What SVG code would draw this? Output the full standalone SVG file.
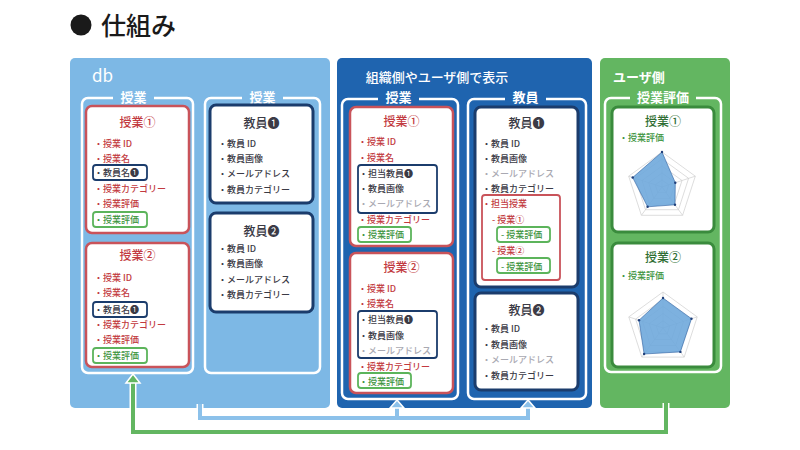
<svg xmlns="http://www.w3.org/2000/svg" width="800" height="450" viewBox="0 0 800 450">
<style>
text{font-family:"Noto Sans CJK JP","Noto Sans",sans-serif}
.ttl{font-size:25px;font-weight:500;fill:#1a1a1a}
.ph{font-size:13px;font-weight:500;fill:#fff}
.gb{fill:none;stroke:#fff;stroke-width:2.5}
.gl{font-size:13px;font-weight:bold;fill:#fff;text-anchor:middle}
.cr{fill:#fff;stroke:#c9535a;stroke-width:2.5}
.cn{fill:#fff;stroke:#1b3c6c;stroke-width:3}
.cg{fill:#fff;stroke:#3a8b3d;stroke-width:3}
.ct{font-size:12px;font-weight:500;text-anchor:middle}
.it{font-size:9px;font-weight:500;fill:#3b3b46}
.r{fill:#c23a40}
.g{fill:#3d9440}
.lg{fill:#a9a9b2}
.bn{fill:none;stroke:#1b3c6c;stroke-width:1.8}
.bg{fill:none;stroke:#5cb45b;stroke-width:1.8}
.br{fill:none;stroke:#c9535a;stroke-width:1.8}
.grid{fill:none;stroke:#cfcfcf;stroke-width:0.7}
.data{fill:#6fa8dc;fill-opacity:0.9;stroke:#2f5f9f;stroke-width:0.6}
.pt{fill:#1f3f7a}
.wo{fill:none;stroke:#fff;stroke-width:7}
.lb{fill:none;stroke:#8cc1ea;stroke-width:4}
.lgr{fill:none;stroke:#63b661;stroke-width:4}
.ahb{fill:#8cc1ea;stroke:#fff;stroke-width:1.5}
.ahg{fill:#63b661;stroke:#fff;stroke-width:1.5}
</style>
<rect width="800" height="450" fill="#fff"/>
<g id="title">
<circle cx="81" cy="25" r="10.5" fill="#1a1a1a"/>
<text class="ttl" x="101" y="35">仕組み</text>
</g>

<g id="panel-db">
<rect x="70" y="58" width="260" height="350" rx="5" fill="#7db8e5"/>
<text x="92" y="82" font-size="17" fill="#fff">db</text>
</g>
<g id="panel-mid">
<rect x="337" y="58" width="255" height="350" rx="5" fill="#1f64af"/>
<text class="ph" x="437" y="82" text-anchor="middle">組織側やユーザ側で表示</text>
</g>
<g id="panel-user">
<rect x="600" y="58" width="130" height="350" rx="5" fill="#63b661"/>
<text x="613" y="82" font-size="13" font-weight="bold" fill="#fff">ユーザ側</text>
</g>

<g id="grp-db-class">
<rect class="gb" x="82" y="98" width="111" height="275" rx="6"/>
<rect x="113" y="90" width="41" height="14" fill="#7db8e5"/>
<text class="gl" x="133.5" y="102">授業</text>
</g>
<g id="db-class1">
<rect class="cr" x="86" y="106" width="103" height="127" rx="6"/>
<text class="ct r" x="137.5" y="127">授業①</text>
<text class="it r" x="94" y="147">・授業 ID</text>
<text class="it r" x="94" y="162">・授業名</text>
<rect class="bn" x="93" y="165" width="54" height="15" rx="3"/>
<text class="it" x="94" y="176">・教員名❶</text>
<text class="it r" x="94" y="192">・授業カテゴリー</text>
<text class="it r" x="94" y="207">・授業評価</text>
<rect class="bg" x="93" y="212" width="54" height="15" rx="3"/>
<text class="it g" x="94" y="223">・授業評価</text>
</g>
<g id="db-class2">
<rect class="cr" x="86" y="243" width="103" height="124" rx="6"/>
<text class="ct r" x="137.5" y="260">授業②</text>
<text class="it r" x="94" y="281">・授業 ID</text>
<text class="it r" x="94" y="296">・授業名</text>
<rect class="bn" x="93" y="302" width="54" height="15" rx="3"/>
<text class="it" x="94" y="313">・教員名❶</text>
<text class="it r" x="94" y="328">・授業カテゴリー</text>
<text class="it r" x="94" y="343">・授業評価</text>
<rect class="bg" x="93" y="348" width="54" height="15" rx="3"/>
<text class="it g" x="94" y="359">・授業評価</text>
</g>

<g id="grp-db-teacher">
<rect class="gb" x="205" y="98" width="115" height="275" rx="6"/>
<rect x="242" y="90" width="41" height="14" fill="#7db8e5"/>
<text class="gl" x="262.5" y="102">授業</text>
</g>
<g id="db-teacher1">
<rect class="cn" x="210" y="105" width="103" height="98" rx="6"/>
<text class="ct" x="261.5" y="128" fill="#3b3b46">教員❶</text>
<text class="it" x="218" y="147">・教員 ID</text>
<text class="it" x="218" y="162">・教員画像</text>
<text class="it" x="218" y="177">・メールアドレス</text>
<text class="it" x="218" y="193">・教員カテゴリー</text>
</g>
<g id="db-teacher2">
<rect class="cn" x="210" y="213" width="103" height="99" rx="6"/>
<text class="ct" x="261.5" y="236" fill="#3b3b46">教員❷</text>
<text class="it" x="218" y="252">・教員 ID</text>
<text class="it" x="218" y="267">・教員画像</text>
<text class="it" x="218" y="283">・メールアドレス</text>
<text class="it" x="218" y="298">・教員カテゴリー</text>
</g>

<g id="grp-mid-class">
<rect class="gb" x="342" y="99" width="116" height="300" rx="6"/>
<rect x="378" y="90" width="41" height="14" fill="#1f64af"/>
<text class="gl" x="398.5" y="102">授業</text>
</g>
<g id="mid-class1">
<rect class="cr" x="350" y="107" width="103" height="139" rx="6"/>
<text class="ct r" x="401.5" y="126">授業①</text>
<text class="it r" x="358" y="145">・授業 ID</text>
<text class="it r" x="358" y="161">・授業名</text>
<rect class="bn" x="358" y="165" width="79" height="48" rx="3"/>
<text class="it" x="359" y="177">・担当教員❶</text>
<text class="it" x="359" y="192">・教員画像</text>
<text class="it lg" x="359" y="207">・メールアドレス</text>
<text class="it r" x="358" y="223">・授業カテゴリー</text>
<rect class="bg" x="358" y="227" width="53" height="15" rx="3"/>
<text class="it g" x="359" y="238">・授業評価</text>
</g>
<g id="mid-class2">
<rect class="cr" x="350" y="253" width="103" height="140" rx="6"/>
<text class="ct r" x="401.5" y="272">授業②</text>
<text class="it r" x="358" y="292">・授業 ID</text>
<text class="it r" x="358" y="307">・授業名</text>
<rect class="bn" x="358" y="311" width="79" height="47" rx="3"/>
<text class="it" x="359" y="323">・担当教員❶</text>
<text class="it" x="359" y="339">・教員画像</text>
<text class="it lg" x="359" y="354">・メールアドレス</text>
<text class="it r" x="358" y="370">・授業カテゴリー</text>
<rect class="bg" x="358" y="373" width="53" height="15" rx="3"/>
<text class="it g" x="359" y="385">・授業評価</text>
</g>

<g id="grp-mid-teacher">
<rect class="gb" x="468" y="99" width="118" height="300" rx="6"/>
<rect x="505" y="90" width="41" height="14" fill="#1f64af"/>
<text class="gl" x="525.5" y="102">教員</text>
</g>
<g id="mid-teacher1">
<rect class="cn" x="475" y="107" width="103" height="180" rx="6"/>
<text class="ct" x="526.5" y="128" fill="#3b3b46">教員❶</text>
<text class="it" x="482" y="147">・教員 ID</text>
<text class="it" x="482" y="162">・教員画像</text>
<text class="it lg" x="482" y="177">・メールアドレス</text>
<text class="it" x="482" y="192">・教員カテゴリー</text>
<rect class="br" x="482" y="195" width="78" height="85" rx="3"/>
<text class="it r" x="482" y="207">・担当授業</text>
<text class="it r" x="492" y="223">- 授業①</text>
<rect class="bg" x="497" y="227" width="53" height="15" rx="3"/>
<text class="it g" x="501" y="238">- 授業評価</text>
<text class="it r" x="492" y="254">- 授業②</text>
<rect class="bg" x="497" y="258" width="53" height="15" rx="3"/>
<text class="it g" x="501" y="270">- 授業評価</text>
</g>
<g id="mid-teacher2">
<rect class="cn" x="475" y="293" width="103" height="97" rx="6"/>
<text class="ct" x="526.5" y="315" fill="#3b3b46">教員❷</text>
<text class="it" x="482" y="332">・教員 ID</text>
<text class="it" x="482" y="348">・教員画像</text>
<text class="it lg" x="482" y="363">・メールアドレス</text>
<text class="it" x="482" y="379">・教員カテゴリー</text>
</g>

<g id="grp-user-eval">
<rect class="gb" x="605" y="98" width="116" height="274" rx="6"/>
<rect x="630" y="90" width="66" height="14" fill="#63b661"/>
<text class="gl" x="663" y="102">授業評価</text>
</g>
<g id="user-eval1">
<rect class="cg" x="612" y="107" width="102" height="125" rx="6"/>
<text class="ct" x="663" y="126" fill="#2f6e33">授業①</text>
<text class="it g" x="619" y="141">・授業評価</text>
<g transform="translate(662,187)">
<polygon class="grid" points="0,-35 33.3,-10.8 20.6,28.3 -20.6,28.3 -33.3,-10.8"/>
<polygon class="grid" points="0,-28 26.6,-8.7 16.5,22.7 -16.5,22.7 -26.6,-8.7"/>
<polygon class="grid" points="0,-21 20,-6.5 12.3,17 -12.3,17 -20,-6.5"/>
<polygon class="grid" points="0,-14 13.3,-4.3 8.2,11.3 -8.2,11.3 -13.3,-4.3"/>
<polygon class="grid" points="0,-7 6.7,-2.2 4.1,5.7 -4.1,5.7 -6.7,-2.2"/>
<path class="grid" d="M0,0V-35M0,0L33.3,-10.8M0,0L20.6,28.3M0,0L-20.6,28.3M0,0L-33.3,-10.8"/>
<polygon class="data" points="0,-35 13.3,-4.3 13,17.8 -14.4,19.8 -29.3,-9.5"/>
<circle class="pt" cx="0" cy="-35" r="1.2"/><circle class="pt" cx="13.3" cy="-4.3" r="1.2"/><circle class="pt" cx="13" cy="17.8" r="1.2"/><circle class="pt" cx="-14.4" cy="19.8" r="1.2"/><circle class="pt" cx="-29.3" cy="-9.5" r="1.2"/>
</g>
</g>
<g id="user-eval2">
<rect class="cg" x="612" y="243" width="102" height="124" rx="6"/>
<text class="ct" x="663" y="262" fill="#2f6e33">授業②</text>
<text class="it g" x="619" y="279">・授業評価</text>
<g transform="translate(663,328)">
<polygon class="grid" points="0,-36 34.2,-11.1 21.2,29.1 -21.2,29.1 -34.2,-11.1"/>
<polygon class="grid" points="0,-28.8 27.4,-8.9 16.9,23.3 -16.9,23.3 -27.4,-8.9"/>
<polygon class="grid" points="0,-21.6 20.5,-6.7 12.7,17.5 -12.7,17.5 -20.5,-6.7"/>
<polygon class="grid" points="0,-14.4 13.7,-4.4 8.5,11.6 -8.5,11.6 -13.7,-4.4"/>
<polygon class="grid" points="0,-7.2 6.8,-2.2 4.2,5.8 -4.2,5.8 -6.8,-2.2"/>
<path class="grid" d="M0,0V-36M0,0L34.2,-11.1M0,0L21.2,29.1M0,0L-21.2,29.1M0,0L-34.2,-11.1"/>
<polygon class="data" points="0,-30 28.5,-9.3 17.4,23.9 -18.9,26 -24,-7.8"/>
<circle class="pt" cx="0" cy="-30" r="1.2"/><circle class="pt" cx="28.5" cy="-9.3" r="1.2"/><circle class="pt" cx="17.4" cy="23.9" r="1.2"/><circle class="pt" cx="-18.9" cy="26" r="1.2"/><circle class="pt" cx="-24" cy="-7.8" r="1.2"/>
</g>
</g>

<g id="connectors">
<path class="wo" d="M200,404V418H528V407M397,418V407"/>
<path class="lb" d="M200,404V418H528V407M397,418V407"/>
<polygon class="ahb" points="397,400 390,408 404,408"/>
<polygon class="ahb" points="528,400 521,408 535,408"/>
<path class="wo" d="M666,403V432H133V382"/>
<path class="lgr" d="M666,403V432H133V382"/>
<polygon class="ahg" points="133,374 126,383 140,383"/>
</g>
</svg>
